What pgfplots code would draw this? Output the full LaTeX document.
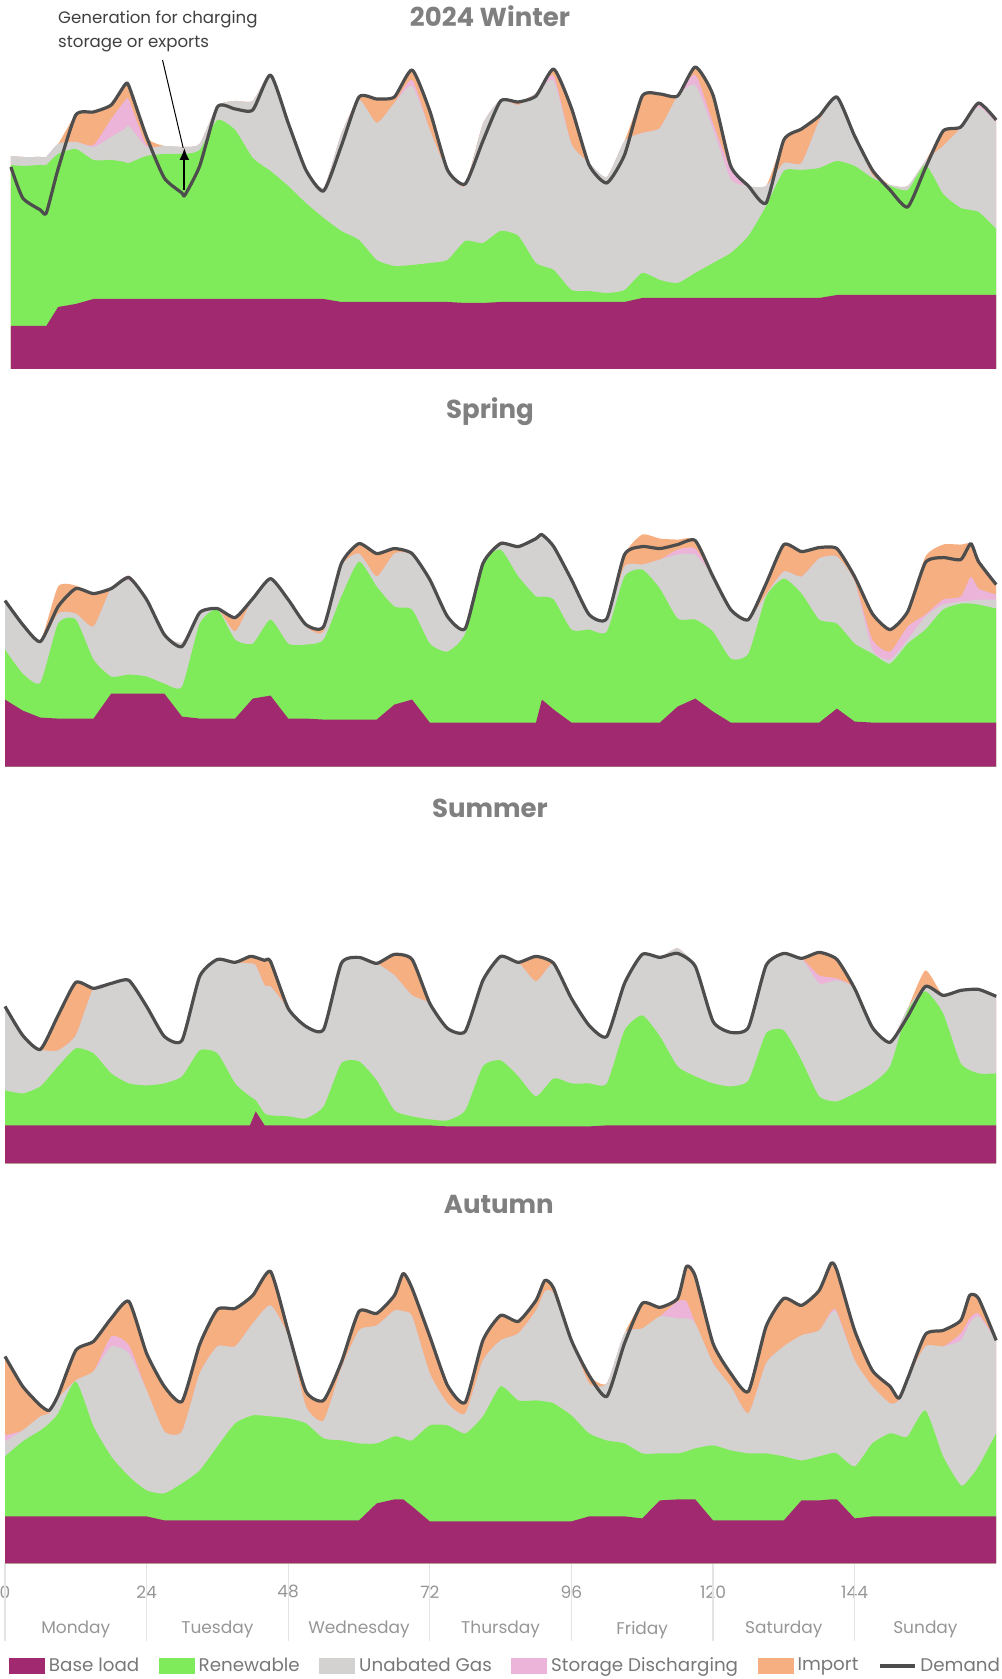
\documentclass[border=0pt]{standalone}
\usepackage{pgfplots}
\usepackage{pgfplotstable}
\usepackage{fontspec}
\pgfplotsset{compat=1.18}
\usetikzlibrary{arrows.meta}
\setmainfont{Poppins}

\definecolor{cBase}{RGB}{160,41,112}
\definecolor{cRen}{RGB}{128,235,90}
\definecolor{cGas}{RGB}{211,210,208}
\definecolor{cSto}{RGB}{235,180,216}
\definecolor{cImp}{RGB}{245,175,128}
\definecolor{cDem}{RGB}{77,77,77}
\definecolor{cTitle}{RGB}{128,128,128}
\definecolor{cTick}{RGB}{150,150,150}
\definecolor{cLeg}{RGB}{120,120,120}
\definecolor{cSep}{RGB}{228,228,228}

% h = hour of week; B,G,Y,P,O = cumulative top of base load, +renewable,
% +unabated gas, +storage discharging, +import; D = demand
\pgfplotstableread{
h B G Y P O D
1 43 204 213 213 213 202
3 43 203 212 212 212 171
6 43 204 212 212 212 159
7 43 204 212 212 212 156
9 62 215 225 225 225 200
12 65 220 227 227 254 254
15 70 209 222 224 257 257
18 70 209 232 250 264 264
20.3 70 207 240 268 284 284
21 70 206 243 269 283 283
24 70 213 222 224 232 232
27 70 215 223 223 223 191
30 70 215 222 222 222 176
30.5 70 215 222 222 222 174
33 70 219 225 225 225 203
36 70 249 263 263 263 262
39 70 239 268 268 268 260
42 70 211 268 268 268 259
45 70 198 294 294 294 294
48 70 183 247 247 247 246
51 70 166 200 200 200 199
54 70 151 181 181 181 178
57 67 138 235 235 235 223
60 67 129 269 269 272 272
63 67 109 246 246 270 270
66 67 103 266 266 272 272
69 67 104 283 289 299 299
72 67 106 239 239 258 258
75 67 109 197 197 199 199
78 66 128 183 183 185 185
81 66 126 245 245 245 228
84 67 138 269 269 269 268
87 67 133 264 264 267 267
90 67 106 276 276 276 273
93 67 99 288 293 300 300
96 67 79 225 225 261 261
99 67 78 206 206 206 204
102 67 76 192 192 192 186
105 67 79 228 228 228 214
108 71 96 236 236 273 273
111 71 89 241 241 275 275
114 71 86 273 273 273 273
117 71 96 284 294 302 302
120 71 106 240 246 274 274
123 71 116 190 200 203 203
126 71 133 183 183 183 183
129 71 163 183 183 183 166
132 71 198 206 206 229 229
135 71 199 206 206 240 240
138 71 201 248 248 253 253
141 74 208 272 272 272 272
144 74 203 234 234 234 233
147 74 191 194 194 199 199
150 74 183 184 184 184 179
153 74 179 183 183 183 162
156 74 204 208 208 208 201
159 74 175 223 223 238 238
162 74 161 241 241 242 242
165 74 157 262 264 266 266
168 74 140 246 248 249 249
}\tabWinter

\pgfplotstableread{
h B G Y P O D
0 67 117 163 163 166 166
3 56 93 142 142 142 142
6 49 84 123 123 126 125
9 48 143 153 153 180 160
12 48 147 153 153 181 178
15 48 107 140 140 173 173
18 73 90 178 178 178 178
21 73 92 186 191 191 189
24 73 90 167 167 167 167
27 73 83 132 132 132 132
30 50 80 124 124 124 120
33 48 143 154 154 154 154
36 48 157 158 158 158 158
39 48 127 135 135 149 149
42 68 123 168 168 168 168
45 71 147 187 187 188 188
48 48 123 167 167 167 167
51 48 122 140 140 142 142
54 47 127 135 135 140 140
57 47 170 200 200 203 203
60 47 205 213 213 223 223
63 47 180 190 190 213 213
66 62 160 213 213 218 218
69 67 157 212 212 213 213
72 44 123 187 187 187 187
75 44 115 148 148 150 150
78 44 133 140 140 140 138
81 44 203 205 205 205 203
84 44 217 225 225 225 223
87 44 190 218 218 220 220
90 44 170 228 228 228 228
91 67 170 232 232 232 232
93 57 167 220 220 220 220
96 44 137 185 187 187 187
99 44 137 152 152 152 152
102 44 135 148 148 148 148
105 44 190 200 200 212 212
108 44 197 202 202 232 220
111 44 178 207 207 228 218
114 60 148 212 217 227 222
117 68 147 212 218 227 226
120 55 135 190 190 190 190
123 44 108 157 157 157 157
126 44 113 147 147 147 147
129 44 170 172 172 183 183
132 44 188 195 195 222 222
135 44 173 190 190 215 215
138 44 147 208 208 219 219
141 58 143 210 210 218 218
144 45 123 185 185 190 190
147 44 113 117 127 153 153
150 44 103 107 115 137 137
153 44 123 127 140 155 155
156 44 137 150 152 210 204
159 44 157 162 167 222 209
162 44 163 165 170 222 207
163.7 44 163 166 190 223 223
165 44 162 167 178 207 205
168 44 158 167 172 183 182
}\tabSpring

\pgfplotstableread{
h B G Y P O D
0 38 73 157 157 157 157
3 38 70 128 128 128 128
6 38 77 114 114 114 114
9 38 97 113 113 148 148
12 38 115 128 128 181 181
15 38 110 175 175 175 175
18 38 90 180 180 180 180
21 38 80 183 183 183 183
24 38 78 157 157 157 157
27 38 80 127 127 127 127
30 38 87 123 123 123 123
33 38 113 187 187 187 187
36 38 110 204 204 204 204
39 38 80 201 201 201 201
41.5 38 67 200 200 207 207
42.5 52 63 198 198 206 206
44 38 50 178 178 203 203
45 38 48 177 177 202 202
48 38 47 155 155 155 155
51 38 45 137 137 137 137
54 38 57 134 134 134 134
57 38 100 200 200 200 200
60 38 102 206 206 206 206
63 38 83 200 200 200 200
66 38 53 188 188 209 209
69 38 47 168 168 204 204
72 38 44 160 160 160 160
75 37 43 135 135 135 135
78 37 53 132 132 132 132
81 37 97 183 183 183 183
84 37 103 207 207 207 207
87 37 87 201 201 201 201
90 37 67 182 182 207 207
93 37 85 200 200 200 200
96 37 80 165 165 165 165
99 37 80 138 138 138 138
102 38 80 127 127 127 127
105 38 133 180 180 180 180
108 38 148 209 209 209 209
111 38 127 206 206 206 206
114 38 97 215 215 215 210
117 38 87 197 197 197 197
120 38 80 142 142 142 142
123 38 77 131 131 131 131
126 38 83 136 136 136 136
129 38 130 198 198 198 198
132 38 133 210 210 210 210
135 38 103 205 205 205 205
138 38 67 180 188 211 211
141 38 62 183 185 204 204
144 38 70 175 175 175 175
147 38 80 136 136 136 136
150 38 97 121 121 121 121
153 38 153 155 155 155 147
156 38 172 177 177 193 177
159 38 150 166 166 168 168
162 38 100 173 173 173 173
165 38 90 174 174 174 174
168 38 90 167 167 167 167
}\tabSummer

\pgfplotstableread{
h B G Y P O D
0 47 107 122 128 207 207
3 47 122 133 133 177 177
6 47 133 147 147 158 158
7.5 47 140 150 150 153 153
9 47 150 165 165 170 168
12 47 182 183 183 213 213
15 47 137 192 192 222 222
18 47 107 217 227 245 245
21 47 87 210 218 262 262
24 47 73 173 173 210 210
27 43 70 132 132 177 177
30 43 80 132 132 162 162
33 43 93 190 190 219 219
36 43 117 217 217 254 254
39 43 140 217 217 255 255
42 43 148 240 240 268 268
45 43 147 258 258 292 292
48 43 145 227 227 232 232
51 43 140 157 157 172 172
54 43 125 143 143 163 163
57 43 123 195 195 201 201
60 43 120 233 233 252 252
63 60 120 238 238 250 250
66 64 127 253 253 268 268
67.5 64 125 252 252 290 290
69 57 123 247 247 275 275
72 42 138 190 190 227 227
75 42 138 160 160 178 178
78 42 130 150 150 161 161
81 42 147 203 203 223 223
84 42 177 223 223 248 248
87 42 163 230 230 242 242
90 42 163 253 253 263 263
91.5 42 162 272 272 283 283
93 42 160 270 270 275 275
96 42 148 223 223 223 223
99 47 130 180 180 188 188
102 47 123 180 180 180 167
105 47 120 230 230 230 220
108 45 110 235 235 260 260
111 63 110 247 247 256 256
114 64 110 245 262 265 265
115.5 64 112 245 262 297 297
117 64 115 240 240 287 287
120 43 118 200 200 220 220
123 43 113 177 177 190 190
126 43 110 150 150 172 172
129 43 110 200 200 237 237
132 43 107 217 217 265 265
135 63 103 228 228 258 258
138 63 107 233 233 273 273
140 64 110 250 252 300 300
141 64 110 250 252 293 293
144 45 97 203 203 233 233
147 47 120 177 177 193 193
150 47 130 160 160 177 177
151.5 47 128 163 163 165 165
153 47 127 185 185 185 185
156 47 153 217 217 229 229
159 47 107 217 217 233 233
162 47 78 223 230 243 243
163.5 47 85 240 245 268 268
165 47 97 247 250 265 265
168 47 130 223 223 223 223
}\tabAutumn

\pgfplotsset{
  panel/.style={scale only axis, width=495.6pt, height=180pt,
    xmin=0, xmax=168, ymin=0, ymax=360,
    axis line style={draw=none}, tick style={draw=none},
    xtick=\empty, ytick=\empty, clip=false, anchor=south west},
  seg/.style={draw=none, fill=#1, forget plot},
  demand/.style={cDem, line width=1.6pt, line join=round, forget plot},
}
\newcommand{\panelplots}[1]{%
  \addplot[seg=cImp, smooth, tension=0.35] table[x=h,y=O]{#1} \closedcycle;
  \addplot[seg=cSto, smooth, tension=0.35] table[x=h,y=P]{#1} \closedcycle;
  \addplot[seg=cGas, smooth, tension=0.35] table[x=h,y=Y]{#1} \closedcycle;
  \addplot[seg=cRen, smooth, tension=0.35] table[x=h,y=G]{#1} \closedcycle;
  \addplot[seg=cBase] table[x=h,y=B]{#1} \closedcycle;
  \addplot[demand, smooth, tension=0.35] table[x=h,y=D]{#1};
}
\newcommand{\paneltitle}[3]{%
  \node[anchor=base, font=\fontsize{13}{15}\selectfont\bfseries, text=cTitle]
    at (axis cs:#1,#2) {#3};}

\begin{document}
\begin{tikzpicture}
\path[use as bounding box] (0,0) rectangle (500.5pt,839.5pt);

% winter
\begin{axis}[panel, at={(2.5pt,655pt)}]
\panelplots{\tabWinter}
\paneltitle{82.2}{342}{2024 Winter}
\node[anchor=base west, inner sep=0pt, font=\fontsize{8.3}{10}\selectfont, text=black!75]
  at (axis cs:8.95,345) {Generation for charging};
\node[anchor=base west, inner sep=0pt, font=\fontsize{8.3}{10}\selectfont, text=black!75]
  at (axis cs:8.95,321) {storage or exports};
\draw[black, line width=0.5pt] (axis cs:26.7,309) -- (axis cs:30.2,221);
\draw[black, line width=0.9pt, -{Latex[length=6pt,width=5pt]}]
  (axis cs:30.4,179) -- (axis cs:30.4,221);
\end{axis}

% spring
\begin{axis}[panel, at={(2.5pt,456.2pt)}]
\panelplots{\tabSpring}
\paneltitle{82.2}{347.6}{Spring}
\end{axis}

% summer
\begin{axis}[panel, at={(2.5pt,257.8pt)}]
\panelplots{\tabSummer}
\paneltitle{82.2}{345.7}{Summer}
\end{axis}

% autumn with time axis and legend
\begin{axis}[panel, at={(2.5pt,57.8pt)},
  xtick={0,24,48,72,96,120,144},
  xticklabels={0,24,48,72,96,120,144},
  major tick length=0pt,
  xticklabel style={font=\fontsize{8.5}{10}\selectfont, text=cTick, anchor=center, yshift=-14.25pt},
  extra x ticks={12,36,60,84,108,132,156},
  extra x tick labels={Monday,Tuesday,Wednesday,Thursday,Friday,Saturday,Sunday},
  extra x tick style={xticklabel style={yshift=-19pt}},
  legend columns=6,
  legend cell align=left,
  legend style={at={(0.0036,-0.2847)}, anchor=west, draw=none, fill=none,
    inner sep=0pt, font=\fontsize{9.15}{11}\selectfont, text=cLeg,
    /tikz/every even column/.append style={column sep=7.7pt}},
]
\pgfplotsinvokeforeach{0,24,48,72,96,120,144}{
  \draw[cSep, line width=0.6pt] (axis cs:#1,0) -- ++(0pt,-39pt);
}
\panelplots{\tabAutumn}
\paneltitle{83.7}{350}{Autumn}
\addlegendimage{legend image code/.code={\fill[cBase] (0pt,-3.75pt) rectangle (17.6pt,3.75pt);}}
\addlegendentry{Base load}
\addlegendimage{legend image code/.code={\fill[cRen] (0pt,-3.75pt) rectangle (17.6pt,3.75pt);}}
\addlegendentry{Renewable}
\addlegendimage{legend image code/.code={\fill[cGas] (0pt,-3.75pt) rectangle (17.6pt,3.75pt);}}
\addlegendentry{Unabated Gas}
\addlegendimage{legend image code/.code={\fill[cSto] (0pt,-3.75pt) rectangle (17.6pt,3.75pt);}}
\addlegendentry{Storage Discharging}
\addlegendimage{legend image code/.code={\fill[cImp] (0pt,-3.75pt) rectangle (17.6pt,3.75pt);}}
\addlegendentry{Import}
\addlegendimage{legend image code/.code={\draw[cDem, line width=1.8pt] (0pt,0pt) -- (17.5pt,0pt);}}
\addlegendentry{Demand}
\end{axis}
\end{tikzpicture}
\end{document}
